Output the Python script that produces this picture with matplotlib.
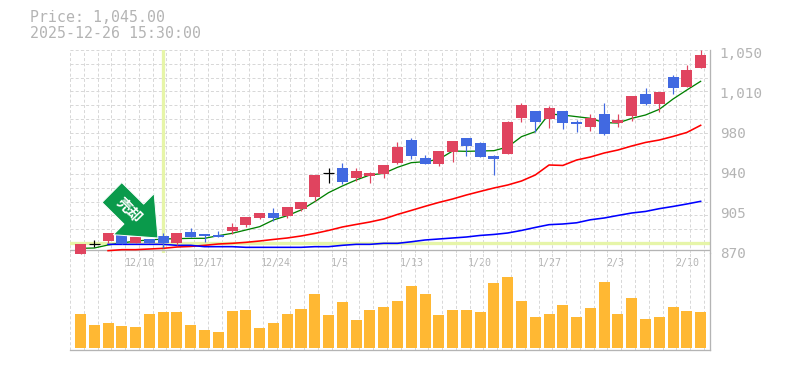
import numpy as np
import matplotlib
matplotlib.use("Agg")
import matplotlib.pyplot as plt

W, H = 785, 370

# top of body, bottom of body, high, low; direction: 'u' red, 'd' blue, 'x' doji
body_top = [878.1,878.1,888,888,884.4,882.6,885.3,888,888.9,887.1,886.2,893.4,902.4,906,906,911.4,915.9,940.2,941.7,946.5,943.8,942,949.2,965.4,971.7,955.5,961.8,970.8,973.5,969,957.3,987.9,1003.2,997.8,1000.5,997.8,987.9,991.5,995.1,989.7,1011.3,1013.1,1014.9,1028.4,1034.7,1048.2]
body_bot = [869.1,878.1,880.8,878.1,879,879,879,879,884.4,885.3,884.4,889.8,895.2,901.5,901.5,903.3,909.6,920.4,941.7,933.9,937.5,939.3,941.1,951,957.3,950.1,950.1,960.9,966.3,956.4,954.6,959.1,991.5,987.9,990.6,987,986.1,983.4,977.1,987,993.3,1004.1,1004.1,1018.5,1019.4,1036.5]
highs = [878.1,881.4,888,888,884.4,882.6,888,888,892.5,887.1,889.8,897,902.4,906,910.5,911.4,915.9,940.2,946.5,951,946.5,942.9,949.2,969.9,973.5,958.2,961.8,970.8,973.5,969.9,958.2,988.8,1005,997.8,1002.3,997.8,989.7,995.1,1005,995.1,1011.3,1018.5,1014.9,1030.2,1039.2,1052.7]
lows = [869.1,875.4,879,878.1,879,879,874.5,877.2,884.4,879.9,884.4,887.1,893.4,900.6,898.8,901.5,907.8,916.8,933,932.1,934.8,933,937.5,950.1,954.6,950.1,948.3,951.9,957.3,956.4,940.2,959.1,987.9,978.9,982.5,981.6,978.9,979.8,976.2,983.4,988.8,1003.2,996.9,1013.1,1019.4,1036.5]
direction = ['u','x','u','d','u','d','d','u','d','d','d','u','u','u','d','u','u','u','x','d','u','u','u',
             'u','d','d','u','u','d','d','d','u','u','d','u','d','d','u','d','u','u','d','u','d','u','u']
volume = [102,69,75,66,63,102,108,108,69,54,48,111,114,60,75,102,117,162,99,138,84,114,123,
          141,186,162,99,114,114,108,195,213,141,93,102,129,93,120,198,102,150,87,93,123,111,108]
ma_short = [874.2,874.5,877.2,879,880.8,881.7,882.6,882.9,883.2,883.2,885.6,887.7,890.7,893.7,899.7,903.6,908.7,916.2,924.3,930.3,935.7,940.2,941.7,947.1,951.3,952.2,954.3,961.8,961.5,961.8,962.1,965.4,974.7,979.2,995.1,994.2,992.7,991.2,987.3,987,991.2,994.2,999.3,1008.6,1016.7,1024.5]
ma_mid = [np.nan,np.nan,872.1,873,873,873.6,874.2,875.4,875.9,876.9,878.1,878.7,879.6,880.8,882.2,883.5,885.3,887.6,890.3,893.4,895.7,897.9,900.6,904.7,908.3,912,915.5,918.6,922.2,925.4,928.5,931.2,934.8,940.2,949.2,948.8,953.7,956.4,960,962.7,966.3,969.5,971.7,974.9,978.5,984.9]
ma_long = [np.nan,np.nan,877.8,877.8,877.8,877.8,877.8,876.9,876.9,875.7,875.7,875.7,875.1,875.1,875.1,875.1,875.1,875.7,875.7,876.9,877.8,877.8,878.7,878.7,880.1,881.7,882.6,883.5,884.4,885.8,886.7,888,890.3,893,895.5,896.1,897.2,899.9,901.5,903.8,906,907.4,909.9,911.9,914.1,916.5]
price_ticks = [1050, 1014, 978, 942, 906, 870]
price_labels = ["1,050", "1,010", "980", "940", "905", "870"]
date_pos = [4.27, 9.27, 14.2, 18.83, 24.02, 29.0, 34.05, 38.8, 44.0]
date_labels = ["12/10", "12/17", "12/24", "1/5", "1/13", "1/20", "1/27", "2/3", "2/10"]
marker_index = 6
marker_price = 879.4
title_lines = ["Price: 1,045.00", "2025-12-26 15:30:00"]
arrow_label = "売却"

GRAY = "#b4b4b4"
GRID = "#d8d8d8"
RED = "#e0445f"
BLUE = "#4169e1"
BAND = "#e6f5a8"
MONO = "DejaVu Sans Mono"
px = 72 / 100
x = np.arange(len(volume))

fig = plt.figure(figsize=(W / 100, H / 100), dpi=100, facecolor="white")
ax = fig.add_axes([70 / W, (H - 253) / H, 640 / W, 203 / H])
vx = fig.add_axes([70 / W, 20 / H, 640 / W, 97 / H], sharex=ax)
vx.patch.set_alpha(0)
ax.patch.set_alpha(0)

XMIN, XMAX = -0.762, 45.68
grid_x = np.arange(47) + XMIN
grid_y = 1052.7 - 12.402 * np.arange(15)

ax.set_xlim(XMIN, XMAX)
ax.set_ylim(870, 1052.7)
vx.set_ylim(-6, 285)

dash = (0, (3, 2.2))
for a in (ax, vx):
    a.set_xticks(grid_x, minor=True)
    a.grid(True, which="minor", axis="x", color=GRID, lw=1 * px, ls=dash)
    a.set_axisbelow(True)
    a.tick_params(which="both", length=0)
    for s in a.spines.values():
        s.set_visible(False)
    a.spines["right"].set_visible(True)
    a.spines["right"].set_color(GRAY)
    a.spines["right"].set_linewidth(1.3 * px)

ax.set_yticks(grid_y, minor=True)
ax.grid(True, which="minor", axis="y", color=GRID, lw=1 * px, ls=dash)

vx.spines["bottom"].set_visible(True)
vx.spines["bottom"].set_color(GRAY)
vx.spines["bottom"].set_linewidth(1.3 * px)
vx.set_yticks([])
vx.tick_params(axis="x", labelbottom=False)

ax.yaxis.tick_right()
ax.set_yticks(price_ticks)
ax.set_yticklabels(price_labels, family=MONO, fontsize=10.3, color=GRAY)
ax.tick_params(axis="y", which="major", pad=7, length=0)
ax.set_xticks(date_pos)
ax.set_xticklabels(date_labels, family=MONO, fontsize=7.2, color=GRAY)
ax.tick_params(axis="x", which="major", pad=3.5, length=0, labelbottom=True)

# highlight bands
ax.axhline(marker_price, color=BAND, lw=3.3 * px, zorder=1.5)
ax.axvline(marker_index, color=BAND, lw=3.3 * px, zorder=1.5)
ax.axhline(872.7, color=GRAY, lw=1.3 * px, zorder=1.6)

# moving averages
ax.plot(x, ma_short, color="#008000", lw=1.3 * px, zorder=2)
ax.plot(x, ma_mid, color="#ff0000", lw=1.6 * px, zorder=2)
ax.plot(x, ma_long, color="#0000ff", lw=1.6 * px, zorder=2)

# candles
colors = {"u": RED, "d": BLUE, "x": "black"}
for i in x:
    c = colors[direction[i]]
    ax.vlines(i, lows[i], highs[i], color=c, lw=1.2 * px, zorder=3, clip_on=False)
    if direction[i] == "x":
        ax.hlines(body_top[i], i - 0.4, i + 0.4, color=c, lw=1.2 * px, zorder=3)
    else:
        ax.bar(i, body_top[i] - body_bot[i], bottom=body_bot[i], width=0.8, color=c,
               linewidth=0, zorder=3, clip_on=False)

# volume
vx.bar(x, volume, width=0.8, color="#ffb833", linewidth=0, zorder=3)

# arrow
tip = (5.62, 883.5)
ax.annotate("", xy=tip, xytext=(-46 * px, 45.5 * px), textcoords="offset points",
            arrowprops=dict(arrowstyle="simple,head_length=%f,head_width=%f,tail_width=%f"
                            % (34 * px, 58 * px, 28 * px),
                            mutation_scale=1, shrinkA=0, shrinkB=0,
                            facecolor="#0a9a4b", edgecolor="white", lw=0.7),
            zorder=6, annotation_clip=False)
ax.annotate(arrow_label, xy=tip, xytext=(-29 * px, 28 * px), textcoords="offset points",
            rotation=-45, rotation_mode="anchor", ha="center", va="center",
            fontsize=10.5, fontweight="bold", color="white",
            family="Noto Sans CJK JP", zorder=7)

# header
for line, yy in zip(title_lines, (18, 33)):
    fig.text(30 / W, 1 - yy / H, line, family=MONO, fontsize=10.7, color=GRAY,
             ha="left", va="center")

fig.savefig("out.png", dpi=100, facecolor="white")
